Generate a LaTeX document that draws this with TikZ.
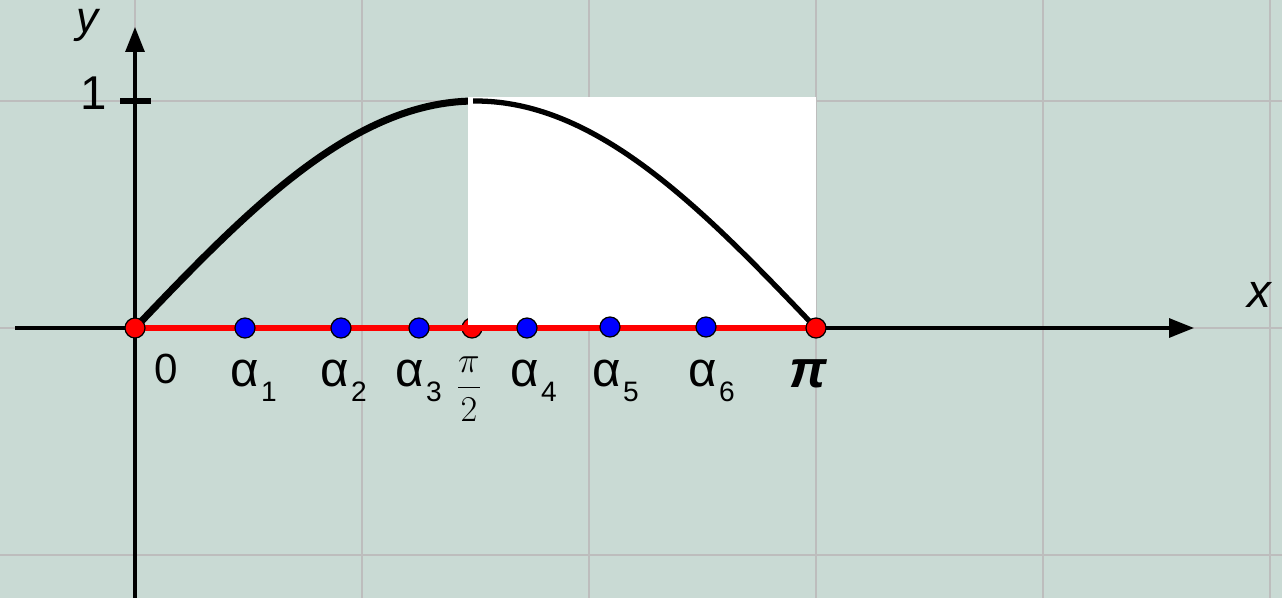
\documentclass[tikz,border=0pt]{standalone}
\usepackage{fontspec}
\setmainfont{Liberation Sans}
\usetikzlibrary{arrows.meta}
\definecolor{bgc}{HTML}{C9DAD4}
\definecolor{gridc}{HTML}{BDBDBD}
\newcommand{\alab}[1]{\fontsize{28}{32}\selectfont α\kern1.5pt\raisebox{-9pt}{\fontsize{16}{18}\selectfont #1}}
\tikzset{
  x=0.02cm, y=-0.02cm,
  gridline/.style={draw=gridc, line width=1.1pt},
  axis/.style={draw=black, line width=1.8pt, -{Triangle[length=0.5cm,width=0.38cm]}},
  redline/.style={draw=red, line width=3.8pt},
  curveL/.style={draw=black, line width=4pt},
  curveR/.style={draw=black, line width=3pt},
  reddot/.style={circle, fill=red, draw=black, line width=0.7pt, minimum size=0.4cm, inner sep=0pt},
  bluedot/.style={circle, fill=blue, draw=black, line width=0.7pt, minimum size=0.4cm, inner sep=0pt},
  lab/.style={inner sep=0pt, outer sep=0pt, anchor=base west},
}
\begin{document}
\begin{tikzpicture}
\fill[bgc] (0,0) rectangle (1282,598);
\useasboundingbox (0,0) rectangle (1282,598);
% grid
\foreach \gx in {135,362,589,816,1043,1270} \draw[gridline] (\gx,0) -- (\gx,598);
\foreach \gy in {101,328,555} \draw[gridline] (0,\gy) -- (1282,\gy);
% axes
\coordinate (xs) at (15,328);
\coordinate (xe) at (1194,328);
\coordinate (ys) at (135,598);
\coordinate (ye) at (135,27);
\draw[axis] (xs) -- (xe);
\draw[axis] (ys) -- (ye);
\coordinate (t1) at (120,101);
\coordinate (t2) at (151,101);
\draw[black, line width=3pt] (t1) -- (t2);
% left curve
\draw[curveL] plot[domain=135:468, samples=80] (\x, {328-227*sin((\x-135)/681*180)});
% points on x axis
\coordinate (c0) at (135,328);
\coordinate (ch) at (472,328);
\coordinate (cp) at (816,328);
\node[reddot] (ph) at (ch) {};
% white rectangle
\fill[white] (468,97) rectangle (816,326);
% red segment
\draw[redline] (c0) -- (cp);
\draw[curveR] plot[domain=473:816, samples=80] (\x, {328-227*sin((\x-135)/681*180)});
\node[reddot] (p0) at (c0) {};
\node[reddot] (pp) at (cp) {};
\node[bluedot] (a1d) at (245,328) {};
\node[bluedot] (a2d) at (341,328) {};
\node[bluedot] (a3d) at (419,328) {};
\node[bluedot] (a4d) at (527,328) {};
\node[bluedot] (a5d) at (610,327) {};
\node[bluedot] (a6d) at (706,327) {};
% labels
\node[lab] (l0) at (154,383) {\fontsize{24}{28}\selectfont 0};
\node[lab] (la1) at (230,386) {\alab{1}};
\node[lab] (la2) at (320,386) {\alab{2}};
\node[lab] (la3) at (395,386) {\alab{3}};
\node[lab] (la4) at (510,386) {\alab{4}};
\node[lab] (la5) at (592,386) {\alab{5}};
\node[lab] (la6) at (688,386) {\alab{6}};
\node[inner sep=0pt] (lh) at (469,389) {\fontsize{22}{24}\selectfont $\displaystyle\frac{\pi}{2}$};
\node[lab] (lpi) at (789,387) {\fontsize{30}{34}\selectfont\bfseries\itshape π};
\node[lab] (l1) at (80,110) {\fontsize{27}{30}\selectfont 1};
\node[lab] (ly) at (76,33) {\fontsize{25}{30}\selectfont\itshape y};
\node[lab] (lx) at (1247,307) {\fontsize{27}{30}\selectfont\itshape x};
\end{tikzpicture}
\end{document}
